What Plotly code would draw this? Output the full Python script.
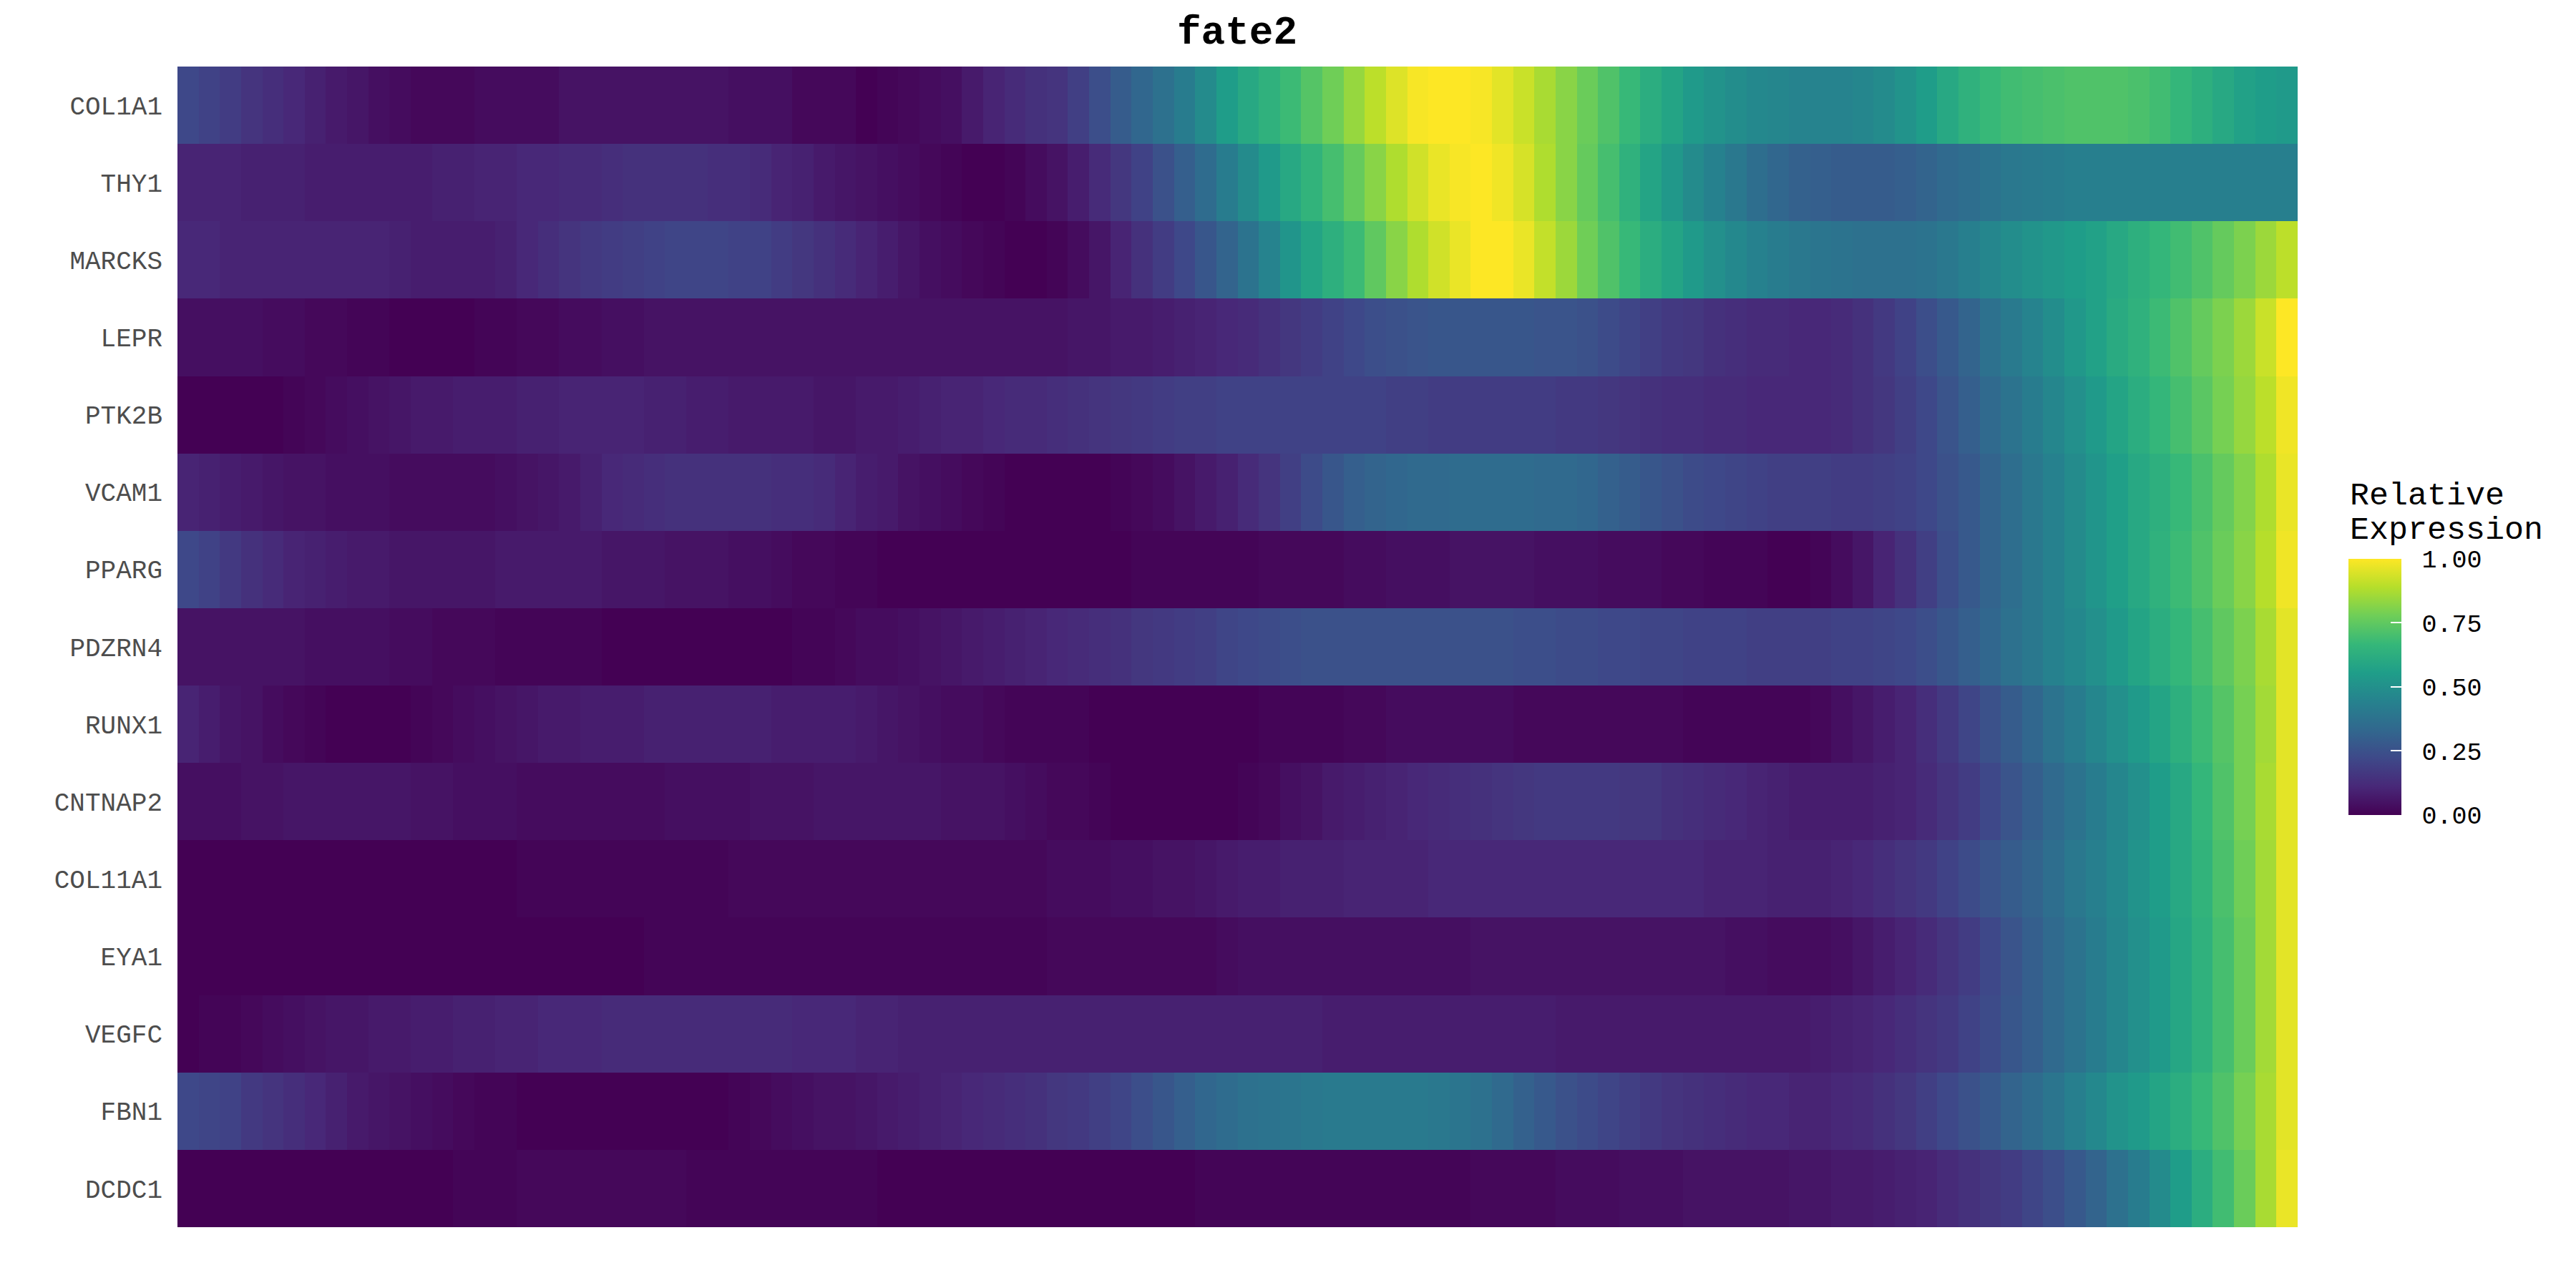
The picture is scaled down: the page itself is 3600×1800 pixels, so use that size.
import plotly.graph_objects as go

genes = ["COL1A1", "THY1", "MARCKS", "LEPR", "PTK2B", "VCAM1", "PPARG", "PDZRN4",
         "RUNX1", "CNTNAP2", "COL11A1", "EYA1", "VEGFC", "FBN1", "DCDC1"]

COL1A1 = [0.22, 0.20, 0.18, 0.15, 0.13, 0.11, 0.09, 0.07, 0.06, 0.04,
          0.03, 0.02, 0.02, 0.02, 0.03, 0.03, 0.03, 0.03, 0.05, 0.05,
          0.05, 0.05, 0.05, 0.05, 0.05, 0.05, 0.04, 0.04, 0.04, 0.02,
          0.02, 0.02, 0.00, 0.01, 0.02, 0.03, 0.04, 0.07, 0.10, 0.12,
          0.14, 0.15, 0.19, 0.24, 0.29, 0.33, 0.37, 0.42, 0.48, 0.55,
          0.60, 0.64, 0.68, 0.73, 0.78, 0.84, 0.90, 0.95, 0.99, 1.00,
          1.00, 0.99, 0.96, 0.92, 0.87, 0.82, 0.77, 0.72, 0.67, 0.62,
          0.58, 0.54, 0.51, 0.49, 0.47, 0.46, 0.45, 0.45, 0.45, 0.46,
          0.48, 0.51, 0.55, 0.60, 0.64, 0.67, 0.69, 0.70, 0.71, 0.72,
          0.72, 0.72, 0.71, 0.69, 0.66, 0.63, 0.60, 0.57, 0.55, 0.54]

THY1 = [0.10, 0.10, 0.10, 0.09, 0.09, 0.09, 0.08, 0.08, 0.08, 0.08,
        0.08, 0.08, 0.09, 0.09, 0.10, 0.10, 0.11, 0.11, 0.12, 0.12,
        0.13, 0.14, 0.14, 0.14, 0.14, 0.13, 0.13, 0.12, 0.10, 0.09,
        0.07, 0.06, 0.05, 0.04, 0.03, 0.02, 0.01, 0.00, 0.00, 0.01,
        0.03, 0.05, 0.08, 0.12, 0.16, 0.20, 0.25, 0.30, 0.35, 0.42,
        0.48, 0.54, 0.60, 0.65, 0.70, 0.76, 0.82, 0.88, 0.93, 0.97,
        0.99, 1.00, 0.98, 0.94, 0.88, 0.82, 0.76, 0.70, 0.64, 0.58,
        0.53, 0.48, 0.44, 0.40, 0.36, 0.33, 0.31, 0.30, 0.29, 0.29,
        0.29, 0.30, 0.32, 0.34, 0.36, 0.38, 0.40, 0.41, 0.42, 0.43,
        0.43, 0.43, 0.43, 0.43, 0.43, 0.43, 0.43, 0.43, 0.43, 0.43]

MARCKS = [0.11, 0.11, 0.10, 0.10, 0.10, 0.10, 0.10, 0.10, 0.10, 0.10,
          0.09, 0.08, 0.08, 0.08, 0.08, 0.09, 0.11, 0.13, 0.15, 0.17,
          0.18, 0.19, 0.20, 0.21, 0.21, 0.21, 0.20, 0.20, 0.18, 0.16,
          0.14, 0.12, 0.10, 0.08, 0.06, 0.04, 0.03, 0.02, 0.01, 0.00,
          0.00, 0.01, 0.03, 0.06, 0.10, 0.14, 0.18, 0.22, 0.27, 0.32,
          0.38, 0.45, 0.52, 0.58, 0.63, 0.68, 0.75, 0.82, 0.88, 0.93,
          0.97, 1.00, 1.00, 0.97, 0.91, 0.85, 0.78, 0.72, 0.67, 0.62,
          0.58, 0.54, 0.50, 0.47, 0.44, 0.42, 0.40, 0.39, 0.38, 0.37,
          0.37, 0.37, 0.38, 0.40, 0.43, 0.46, 0.49, 0.51, 0.53, 0.55,
          0.57, 0.60, 0.63, 0.66, 0.69, 0.72, 0.76, 0.80, 0.85, 0.90]

LEPR = [0.04, 0.04, 0.04, 0.04, 0.03, 0.03, 0.02, 0.02, 0.01, 0.01,
        0.00, 0.00, 0.00, 0.00, 0.01, 0.01, 0.02, 0.02, 0.03, 0.03,
        0.04, 0.04, 0.05, 0.05, 0.05, 0.05, 0.05, 0.05, 0.05, 0.05,
        0.05, 0.05, 0.05, 0.05, 0.05, 0.05, 0.05, 0.05, 0.05, 0.05,
        0.05, 0.05, 0.06, 0.06, 0.07, 0.07, 0.08, 0.09, 0.10, 0.11,
        0.12, 0.14, 0.16, 0.18, 0.20, 0.22, 0.24, 0.25, 0.26, 0.27,
        0.27, 0.27, 0.27, 0.27, 0.26, 0.26, 0.25, 0.23, 0.21, 0.19,
        0.17, 0.16, 0.14, 0.13, 0.12, 0.12, 0.11, 0.11, 0.12, 0.14,
        0.17, 0.20, 0.24, 0.28, 0.32, 0.37, 0.41, 0.45, 0.49, 0.53,
        0.57, 0.61, 0.64, 0.68, 0.72, 0.76, 0.80, 0.85, 0.92, 1.00]

PTK2B = [0.00, 0.00, 0.00, 0.00, 0.00, 0.01, 0.02, 0.03, 0.04, 0.05,
         0.06, 0.07, 0.07, 0.08, 0.08, 0.08, 0.09, 0.09, 0.10, 0.10,
         0.10, 0.10, 0.09, 0.09, 0.08, 0.08, 0.07, 0.07, 0.07, 0.07,
         0.06, 0.06, 0.07, 0.07, 0.08, 0.09, 0.10, 0.10, 0.11, 0.12,
         0.12, 0.13, 0.14, 0.15, 0.16, 0.17, 0.18, 0.19, 0.19, 0.20,
         0.20, 0.20, 0.20, 0.20, 0.20, 0.20, 0.20, 0.19, 0.19, 0.18,
         0.18, 0.18, 0.18, 0.18, 0.18, 0.17, 0.17, 0.16, 0.15, 0.14,
         0.13, 0.13, 0.12, 0.12, 0.11, 0.11, 0.11, 0.11, 0.12, 0.14,
         0.16, 0.19, 0.22, 0.26, 0.30, 0.34, 0.38, 0.42, 0.46, 0.50,
         0.54, 0.58, 0.62, 0.66, 0.70, 0.74, 0.79, 0.84, 0.90, 0.98]

VCAM1 = [0.10, 0.09, 0.08, 0.07, 0.06, 0.05, 0.05, 0.04, 0.04, 0.04,
         0.03, 0.03, 0.03, 0.03, 0.03, 0.04, 0.05, 0.06, 0.07, 0.09,
         0.11, 0.12, 0.13, 0.14, 0.14, 0.14, 0.14, 0.14, 0.13, 0.13,
         0.12, 0.10, 0.08, 0.07, 0.05, 0.04, 0.03, 0.02, 0.01, 0.00,
         0.00, 0.00, 0.00, 0.00, 0.01, 0.02, 0.03, 0.05, 0.07, 0.09,
         0.12, 0.15, 0.19, 0.23, 0.27, 0.30, 0.32, 0.33, 0.34, 0.34,
         0.35, 0.35, 0.35, 0.35, 0.34, 0.34, 0.33, 0.31, 0.29, 0.27,
         0.25, 0.23, 0.22, 0.21, 0.20, 0.19, 0.19, 0.19, 0.18, 0.18,
         0.19, 0.20, 0.22, 0.25, 0.28, 0.32, 0.36, 0.40, 0.44, 0.48,
         0.52, 0.56, 0.60, 0.63, 0.67, 0.71, 0.76, 0.81, 0.88, 0.97]

PPARG = [0.22, 0.20, 0.17, 0.14, 0.12, 0.10, 0.09, 0.08, 0.07, 0.07,
         0.06, 0.06, 0.06, 0.06, 0.06, 0.07, 0.07, 0.07, 0.07, 0.07,
         0.06, 0.06, 0.06, 0.05, 0.05, 0.05, 0.04, 0.04, 0.03, 0.02,
         0.02, 0.01, 0.01, 0.00, 0.00, 0.00, 0.00, 0.00, 0.00, 0.00,
         0.00, 0.00, 0.00, 0.00, 0.00, 0.01, 0.01, 0.01, 0.01, 0.01,
         0.01, 0.02, 0.02, 0.02, 0.02, 0.03, 0.03, 0.04, 0.04, 0.04,
         0.05, 0.05, 0.05, 0.05, 0.04, 0.04, 0.04, 0.03, 0.03, 0.03,
         0.02, 0.02, 0.01, 0.01, 0.01, 0.00, 0.00, 0.01, 0.03, 0.06,
         0.10, 0.14, 0.19, 0.24, 0.28, 0.32, 0.36, 0.40, 0.44, 0.48,
         0.52, 0.56, 0.60, 0.64, 0.68, 0.72, 0.77, 0.82, 0.89, 0.98]

PDZRN4 = [0.05, 0.05, 0.05, 0.05, 0.05, 0.05, 0.04, 0.04, 0.04, 0.04,
          0.03, 0.03, 0.02, 0.02, 0.02, 0.01, 0.01, 0.01, 0.01, 0.01,
          0.00, 0.00, 0.00, 0.00, 0.00, 0.00, 0.00, 0.00, 0.00, 0.01,
          0.01, 0.02, 0.03, 0.03, 0.04, 0.05, 0.06, 0.07, 0.08, 0.09,
          0.10, 0.11, 0.12, 0.13, 0.14, 0.16, 0.17, 0.18, 0.19, 0.21,
          0.22, 0.23, 0.24, 0.25, 0.25, 0.25, 0.25, 0.25, 0.25, 0.25,
          0.25, 0.25, 0.25, 0.24, 0.24, 0.23, 0.23, 0.22, 0.22, 0.21,
          0.21, 0.20, 0.20, 0.20, 0.19, 0.19, 0.19, 0.19, 0.20, 0.20,
          0.21, 0.22, 0.24, 0.27, 0.30, 0.33, 0.37, 0.40, 0.44, 0.47,
          0.50, 0.54, 0.58, 0.62, 0.66, 0.70, 0.75, 0.80, 0.87, 0.96]

RUNX1 = [0.10, 0.08, 0.06, 0.05, 0.03, 0.02, 0.01, 0.00, 0.00, 0.00,
         0.00, 0.01, 0.02, 0.03, 0.04, 0.05, 0.06, 0.07, 0.07, 0.08,
         0.08, 0.08, 0.09, 0.09, 0.09, 0.09, 0.09, 0.09, 0.08, 0.08,
         0.08, 0.08, 0.07, 0.06, 0.05, 0.04, 0.03, 0.03, 0.02, 0.01,
         0.01, 0.01, 0.01, 0.00, 0.00, 0.00, 0.00, 0.00, 0.00, 0.00,
         0.00, 0.01, 0.01, 0.01, 0.01, 0.02, 0.02, 0.03, 0.03, 0.03,
         0.03, 0.03, 0.03, 0.02, 0.02, 0.02, 0.02, 0.02, 0.02, 0.02,
         0.02, 0.01, 0.01, 0.01, 0.01, 0.01, 0.01, 0.02, 0.04, 0.06,
         0.08, 0.10, 0.13, 0.17, 0.21, 0.25, 0.29, 0.33, 0.38, 0.42,
         0.46, 0.50, 0.54, 0.58, 0.63, 0.68, 0.73, 0.79, 0.86, 0.96]

CNTNAP2 = [0.04, 0.04, 0.04, 0.05, 0.05, 0.06, 0.06, 0.06, 0.06, 0.06,
           0.06, 0.05, 0.05, 0.04, 0.04, 0.04, 0.03, 0.03, 0.03, 0.03,
           0.03, 0.03, 0.03, 0.04, 0.04, 0.04, 0.04, 0.05, 0.05, 0.05,
           0.06, 0.06, 0.06, 0.06, 0.06, 0.06, 0.05, 0.05, 0.05, 0.04,
           0.03, 0.02, 0.02, 0.01, 0.00, 0.00, 0.00, 0.00, 0.00, 0.00,
           0.01, 0.02, 0.04, 0.05, 0.07, 0.08, 0.09, 0.10, 0.11, 0.12,
           0.13, 0.14, 0.15, 0.16, 0.17, 0.17, 0.17, 0.17, 0.16, 0.16,
           0.14, 0.13, 0.12, 0.11, 0.10, 0.09, 0.08, 0.08, 0.08, 0.08,
           0.09, 0.10, 0.12, 0.15, 0.18, 0.22, 0.26, 0.30, 0.34, 0.38,
           0.42, 0.46, 0.50, 0.55, 0.60, 0.66, 0.72, 0.79, 0.87, 0.96]

COL11A1 = [0.00, 0.00, 0.00, 0.00, 0.00, 0.00, 0.00, 0.00, 0.00, 0.00,
           0.00, 0.00, 0.00, 0.00, 0.00, 0.00, 0.01, 0.01, 0.01, 0.01,
           0.01, 0.01, 0.01, 0.01, 0.01, 0.01, 0.02, 0.02, 0.02, 0.02,
           0.02, 0.02, 0.02, 0.02, 0.02, 0.02, 0.02, 0.02, 0.02, 0.02,
           0.02, 0.03, 0.03, 0.03, 0.04, 0.04, 0.05, 0.05, 0.06, 0.07,
           0.08, 0.08, 0.09, 0.09, 0.09, 0.10, 0.10, 0.10, 0.10, 0.11,
           0.11, 0.11, 0.11, 0.11, 0.11, 0.11, 0.11, 0.11, 0.11, 0.11,
           0.11, 0.11, 0.10, 0.10, 0.10, 0.09, 0.09, 0.09, 0.10, 0.11,
           0.13, 0.15, 0.17, 0.20, 0.23, 0.26, 0.29, 0.32, 0.36, 0.40,
           0.43, 0.47, 0.51, 0.55, 0.60, 0.65, 0.71, 0.78, 0.86, 0.96]

EYA1 = [0.00, 0.00, 0.00, 0.00, 0.00, 0.00, 0.00, 0.00, 0.00, 0.00,
        0.00, 0.00, 0.00, 0.00, 0.00, 0.00, 0.00, 0.00, 0.00, 0.00,
        0.00, 0.00, 0.01, 0.01, 0.01, 0.01, 0.01, 0.01, 0.01, 0.01,
        0.01, 0.01, 0.01, 0.01, 0.01, 0.01, 0.01, 0.01, 0.01, 0.01,
        0.01, 0.02, 0.02, 0.02, 0.02, 0.02, 0.02, 0.02, 0.02, 0.03,
        0.04, 0.04, 0.04, 0.04, 0.04, 0.04, 0.04, 0.04, 0.04, 0.04,
        0.04, 0.05, 0.05, 0.05, 0.05, 0.05, 0.05, 0.05, 0.05, 0.05,
        0.05, 0.05, 0.05, 0.04, 0.04, 0.03, 0.03, 0.03, 0.04, 0.06,
        0.08, 0.10, 0.12, 0.15, 0.18, 0.22, 0.26, 0.30, 0.34, 0.38,
        0.42, 0.46, 0.50, 0.54, 0.59, 0.64, 0.70, 0.77, 0.86, 0.96]

VEGFC = [0.00, 0.01, 0.01, 0.02, 0.03, 0.04, 0.05, 0.06, 0.06, 0.07,
         0.07, 0.08, 0.08, 0.09, 0.09, 0.10, 0.10, 0.11, 0.11, 0.11,
         0.12, 0.12, 0.12, 0.12, 0.12, 0.12, 0.12, 0.12, 0.12, 0.11,
         0.11, 0.11, 0.10, 0.10, 0.09, 0.09, 0.09, 0.09, 0.09, 0.09,
         0.09, 0.09, 0.09, 0.09, 0.09, 0.09, 0.09, 0.09, 0.09, 0.09,
         0.09, 0.09, 0.09, 0.09, 0.08, 0.08, 0.08, 0.08, 0.08, 0.08,
         0.08, 0.08, 0.08, 0.08, 0.08, 0.07, 0.07, 0.07, 0.07, 0.07,
         0.07, 0.07, 0.07, 0.07, 0.07, 0.07, 0.07, 0.08, 0.09, 0.10,
         0.11, 0.13, 0.15, 0.17, 0.20, 0.23, 0.27, 0.30, 0.34, 0.38,
         0.42, 0.46, 0.50, 0.54, 0.59, 0.64, 0.70, 0.77, 0.86, 0.96]

FBN1 = [0.22, 0.21, 0.20, 0.17, 0.15, 0.13, 0.11, 0.09, 0.07, 0.06,
        0.05, 0.04, 0.03, 0.02, 0.01, 0.01, 0.00, 0.00, 0.00, 0.00,
        0.00, 0.00, 0.00, 0.00, 0.00, 0.00, 0.01, 0.02, 0.03, 0.04,
        0.05, 0.05, 0.06, 0.07, 0.08, 0.09, 0.10, 0.11, 0.12, 0.13,
        0.14, 0.16, 0.17, 0.19, 0.21, 0.24, 0.27, 0.30, 0.33, 0.35,
        0.37, 0.38, 0.39, 0.40, 0.41, 0.41, 0.41, 0.41, 0.41, 0.40,
        0.39, 0.37, 0.34, 0.31, 0.28, 0.25, 0.23, 0.21, 0.19, 0.17,
        0.15, 0.14, 0.13, 0.12, 0.11, 0.11, 0.10, 0.10, 0.11, 0.12,
        0.14, 0.16, 0.19, 0.22, 0.25, 0.28, 0.32, 0.35, 0.39, 0.43,
        0.47, 0.51, 0.54, 0.58, 0.62, 0.67, 0.72, 0.79, 0.87, 0.96]

DCDC1 = [0.00, 0.00, 0.00, 0.00, 0.00, 0.00, 0.00, 0.00, 0.00, 0.00,
         0.00, 0.00, 0.00, 0.01, 0.01, 0.01, 0.02, 0.02, 0.02, 0.02,
         0.02, 0.02, 0.02, 0.02, 0.01, 0.01, 0.01, 0.01, 0.01, 0.01,
         0.01, 0.01, 0.01, 0.00, 0.00, 0.00, 0.00, 0.00, 0.00, 0.00,
         0.00, 0.00, 0.00, 0.00, 0.00, 0.00, 0.00, 0.00, 0.01, 0.01,
         0.01, 0.01, 0.01, 0.01, 0.01, 0.01, 0.01, 0.01, 0.01, 0.01,
         0.01, 0.02, 0.02, 0.02, 0.02, 0.03, 0.03, 0.03, 0.04, 0.04,
         0.04, 0.05, 0.05, 0.05, 0.05, 0.05, 0.06, 0.06, 0.07, 0.07,
         0.08, 0.09, 0.10, 0.12, 0.14, 0.16, 0.18, 0.21, 0.24, 0.28,
         0.32, 0.37, 0.42, 0.48, 0.55, 0.62, 0.69, 0.77, 0.87, 0.97]

z_rows = [COL1A1, THY1, MARCKS, LEPR, PTK2B, VCAM1, PPARG, PDZRN4,
          RUNX1, CNTNAP2, COL11A1, EYA1, VEGFC, FBN1, DCDC1]

pseudotime_bins = list(range(1, len(COL1A1) + 1))

cb_tickvals = [0, 0.25, 0.5, 0.75, 1.0]
cb_ticktext = ["\u00a00.00", "\u00a00.25", "\u00a00.50", "\u00a00.75", "\u00a01.00"]
legend_title_lines = ["Relative", "Expression"]

MONO = "Liberation Mono, DejaVu Sans Mono, monospace"

# page body has an 8px default margin, compensate so plot lands where the reference has it
OFF = 8

fig = go.Figure(
    go.Heatmap(
        z=z_rows,
        x=pseudotime_bins,
        y=genes,
        zmin=0, zmax=1,
        colorscale="Viridis",
        zsmooth=False,
        colorbar=dict(
            tickvals=cb_tickvals,
            ticktext=cb_ticktext,
            tickfont=dict(family=MONO, size=35, color="#000000"),
            ticks="inside", tickcolor="#ffffff", ticklen=15, tickwidth=2,
            thickness=74, len=358, lenmode="pixels",
            x=1.0240, xanchor="left", xpad=0,
            y=0.4655, yanchor="middle", ypad=0,
            outlinewidth=0,
        ),
    )
)

fig.update_layout(
    width=3600, height=1800,
    margin=dict(l=248 - OFF, r=389 + OFF, t=93 - OFF, b=85 + OFF),
    paper_bgcolor="#ffffff", plot_bgcolor="#ffffff",
    title=dict(text="<b>fate2</b>", x=(1729 - OFF) / 3600, xanchor="center",
               y=1 - (41 - OFF) / 1800, yanchor="middle", yref="container",
               font=dict(family=MONO, size=56, color="#000000")),
    annotations=[
        dict(text=legend_title_lines[0], xref="paper", yref="paper",
             x=1.0238, y=0.630, xanchor="left", yanchor="middle",
             showarrow=False, align="left",
             font=dict(family=MONO, size=45, color="#000000")),
        dict(text=legend_title_lines[1], xref="paper", yref="paper",
             x=1.0238, y=0.600, xanchor="left", yanchor="middle",
             showarrow=False, align="left",
             font=dict(family=MONO, size=45, color="#000000")),
    ],
)

fig.update_xaxes(visible=False, showgrid=False, zeroline=False)
fig.update_yaxes(autorange="reversed", showgrid=False, zeroline=False,
                 ticks="", ticklabelstandoff=20,
                 tickfont=dict(family=MONO, size=36, color="#4d4d4d"))

fig.write_html("out.html")
